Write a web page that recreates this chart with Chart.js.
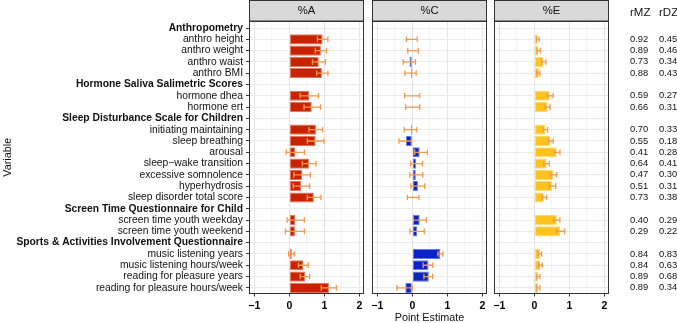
<!DOCTYPE html>
<html>
<head>
<meta charset="utf-8">
<script src="https://cdn.jsdelivr.net/npm/chart.js@4"></script>
<style>
  html, body { margin: 0; padding: 0; background: #ffffff; }
  #wrap { position: relative; width: 677px; height: 323px; overflow: hidden; background: #fff; }
  canvas { position: absolute; top: 0; }
</style>
</head>
<body>
<div id="wrap">
  <canvas id="cA" width="368" height="323" style="left:0px"></canvas>
  <canvas id="cC" width="124" height="323" style="left:366px"></canvas>
  <canvas id="cE" width="188" height="323" style="left:489px"></canvas>
</div>
<script>
// ---------- data ----------
const categories = [
  "Anthropometry", "anthro height", "anthro weight", "anthro waist", "anthro BMI",
  "Hormone Saliva Salimetric Scores", "hormone dhea", "hormone ert",
  "Sleep Disturbance Scale for Children", "initiating maintaining", "sleep breathing", "arousal",
  "sleep\u2212wake transition", "excessive somnolence", "hyperhydrosis", "sleep disorder total score",
  "Screen Time Questionnaire for Child", "screen time youth weekday", "screen time youth weekend",
  "Sports & Activities Involvement Questionnaire", "music listening years", "music listening hours/week",
  "reading for pleasure years", "reading for pleasure hours/week"
];
const headerRows = [
  "Anthropometry", "Hormone Saliva Salimetric Scores", "Sleep Disturbance Scale for Children",
  "Screen Time Questionnaire for Child", "Sports & Activities Involvement Questionnaire"
];
const panelTitles = ["%A", "%C", "%E"];
const xTickValues = [-1, -0.5, 0, 0.5, 1, 1.5, 2];

const estA = [null, 0.95, 0.90, 0.84, 0.93, null, 0.57, 0.64, null, 0.76, 0.75, 0.17, 0.56, 0.37, 0.34, 0.70, null, 0.17, 0.16, null, 0.07, 0.39, 0.45, 1.13];
const loA  = [null, 0.80, 0.74, 0.66, 0.78, null, 0.31, 0.42, null, 0.56, 0.51, -0.09, 0.37, 0.13, 0.11, 0.51, null, -0.06, -0.11, null, -0.02, 0.26, 0.31, 0.91];
const hiA  = [null, 1.10, 1.06, 1.03, 1.10, null, 0.83, 0.89, null, 0.95, 0.99, 0.43, 0.76, 0.60, 0.58, 0.90, null, 0.43, 0.43, null, 0.14, 0.54, 0.58, 1.34];

const estC = [null, 0.01, 0.02, -0.08, -0.04, null, 0.00, 0.00, null, -0.04, -0.18, 0.21, 0.11, 0.10, 0.16, 0.02, null, 0.21, 0.14, null, 0.80, 0.46, 0.47, -0.20];
const loC  = [null, -0.17, -0.13, -0.26, -0.21, null, -0.22, -0.19, null, -0.23, -0.38, 0.07, -0.05, -0.07, -0.04, -0.14, null, 0.03, -0.07, null, 0.73, 0.31, 0.33, -0.44];
const hiC  = [null, 0.14, 0.17, 0.09, 0.11, null, 0.21, 0.21, null, 0.13, -0.02, 0.43, 0.29, 0.30, 0.35, 0.19, null, 0.40, 0.34, null, 0.87, 0.58, 0.58, 0.00];

const estE = [null, 0.10, 0.11, 0.26, 0.13, null, 0.44, 0.38, null, 0.31, 0.46, 0.64, 0.35, 0.54, 0.51, 0.27, null, 0.64, 0.74, null, 0.17, 0.17, 0.11, 0.11];
const loE  = [null, 0.06, 0.08, 0.21, 0.08, null, 0.37, 0.31, null, 0.26, 0.40, 0.57, 0.27, 0.46, 0.43, 0.23, null, 0.56, 0.64, null, 0.11, 0.12, 0.07, 0.06];
const hiE  = [null, 0.14, 0.17, 0.33, 0.16, null, 0.54, 0.45, null, 0.38, 0.54, 0.73, 0.43, 0.64, 0.61, 0.35, null, 0.73, 0.86, null, 0.21, 0.23, 0.16, 0.16];

const rMZ = [null, 0.92, 0.89, 0.73, 0.88, null, 0.59, 0.66, null, 0.70, 0.55, 0.41, 0.64, 0.47, 0.51, 0.73, null, 0.40, 0.29, null, 0.84, 0.84, 0.89, 0.89];
const rDZ = [null, 0.45, 0.46, 0.34, 0.43, null, 0.27, 0.31, null, 0.33, 0.18, 0.28, 0.41, 0.30, 0.31, 0.38, null, 0.29, 0.22, null, 0.83, 0.63, 0.68, 0.34];

// ---------- styling ----------
const FONT = "'Liberation Sans', Arial, Helvetica, sans-serif";
const ERR_COLOR = "#F5994A";
const TEXT = "#111111";

function fmtTick(v) {
  if (!Number.isInteger(v)) return "";
  return v < 0 ? "\u2212" + Math.abs(v) : String(v);
}

function panelPlugin(title, lo, hi, extra) {
  return {
    id: "panel_" + title.replace("%", ""),
    afterDatasetsDraw(chart) {
      const ctx = chart.ctx, xs = chart.scales.x, ys = chart.scales.y;
      ctx.save();
      ctx.strokeStyle = ERR_COLOR;
      ctx.lineWidth = 1.3;
      for (let i = 0; i < lo.length; i++) {
        if (lo[i] === null || hi[i] === null) continue;
        const y = ys.getPixelForValue(i);
        const x1 = xs.getPixelForValue(lo[i]);
        const x2 = xs.getPixelForValue(hi[i]);
        ctx.beginPath();
        ctx.moveTo(x1, y); ctx.lineTo(x2, y);
        ctx.moveTo(x1, y - 2.8); ctx.lineTo(x1, y + 2.8);
        ctx.moveTo(x2, y - 2.8); ctx.lineTo(x2, y + 2.8);
        ctx.stroke();
      }
      ctx.restore();
    },
    afterDraw(chart) {
      const ctx = chart.ctx, a = chart.chartArea;
      ctx.save();
      ctx.strokeStyle = "#333333";
      ctx.lineWidth = 1;
      const L = Math.round(a.left), R = Math.round(a.right), T = Math.round(a.top), B = Math.round(a.bottom);
      ctx.strokeRect(L + 0.5, T + 0.5, R - L - 1, B - T - 1);
      // strip
      ctx.fillStyle = "#D9D9D9";
      ctx.fillRect(L, 0, R - L, T);
      ctx.strokeRect(L + 0.5, 0.5, R - L - 1, T - 0.5);
      ctx.fillStyle = TEXT;
      ctx.font = "11.3px " + FONT;
      ctx.textAlign = "center";
      ctx.textBaseline = "middle";
      ctx.fillText(title, (a.left + a.right) / 2, T / 2 + 0.5);
      if (extra) extra(chart);
      ctx.restore();
    }
  };
}

function toPoints(est) {
  const pts = [];
  est.forEach((v, i) => { if (v !== null) pts.push({ x: v, y: i }); });
  return pts;
}

function makeChart(id, idx, est, lo, hi, fill, border, cfg) {
  const plugins = [panelPlugin(panelTitles[idx], lo, hi, cfg.extra)];
  return new Chart(document.getElementById(id), {
    type: "bar",
    data: {
      datasets: [{
        data: toPoints(est),
        backgroundColor: fill,
        borderColor: border,
        borderWidth: 1,
        borderSkipped: false,
        barPercentage: 0.9,
        categoryPercentage: 1.0
      }]
    },
    options: {
      indexAxis: "y",
      responsive: false,
      animation: false,
      events: [],
      layout: { padding: cfg.padding },
      plugins: { legend: { display: false }, tooltip: { enabled: false } },
      scales: {
        x: {
          type: "linear",
          min: -1.15, max: 2.13,
          afterBuildTicks(scale) { scale.ticks = xTickValues.map(v => ({ value: v })); },
          afterFit(scale) { scale.height = 29.5; },
          border: { display: false },
          grid: {
            color: c => Number.isInteger(c.tick.value) ? "#E4E4E4" : "#F1F1F1",
            lineWidth: c => Number.isInteger(c.tick.value) ? 1 : 0.7,
            tickColor: c => Number.isInteger(c.tick.value) ? "#333333" : "rgba(0,0,0,0)",
            tickLength: 3,
            tickWidth: 1
          },
          ticks: {
            autoSkip: false, maxRotation: 0, padding: 3.5,
            color: "#000000",
            font: { family: FONT, size: 10.5, weight: "bold" },
            callback: v => fmtTick(v)
          },
          title: cfg.xTitle ? {
            display: true, text: "Point Estimate", color: TEXT,
            font: { family: FONT, size: 10.8 }, padding: { top: 0, bottom: -2 }
          } : { display: false }
        },
        y: {
          type: "linear",
          reverse: true,
          offset: false,
          min: -0.62, max: 23.5,
          afterBuildTicks(scale) { scale.ticks = categories.map((_, i) => ({ value: i })); },
          afterFit(scale) { scale.width = cfg.yWidth; },
          border: { display: false },
          grid: {
            offset: false,
            color: "#EBEBEB",
            lineWidth: 1,
            drawTicks: cfg.showLabels,
            tickLength: 3,
            tickColor: "#333333"
          },
          ticks: {
            display: cfg.showLabels,
            autoSkip: false,
            padding: 3,
            color: TEXT,
            callback: v => categories[v],
            font: c => ({
              family: FONT, size: 10.3,
              weight: headerRows.includes(categories[c.index]) ? "bold" : "normal"
            })
          },
          title: cfg.showLabels ? {
            display: true, text: "Variable", color: TEXT,
            font: { family: FONT, size: 10.8 }, padding: { top: 2, bottom: 0 }
          } : { display: false }
        }
      }
    },
    plugins: plugins
  });
}

function drawCorrelations(chart) {
  const ctx = chart.ctx, ys = chart.scales.y;
  const xMZ = 630 - 489, xDZ = 659 - 489;
  ctx.fillStyle = TEXT;
  ctx.textAlign = "left";
  ctx.textBaseline = "middle";
  ctx.font = "11.5px " + FONT;
  ctx.fillText("rMZ", xMZ, 13);
  ctx.fillText("rDZ", xDZ, 13);
  ctx.font = "9.4px " + FONT;
  for (let i = 0; i < categories.length; i++) {
    const y = ys.getPixelForValue(i);
    if (rMZ[i] !== null) ctx.fillText(rMZ[i].toFixed(2), xMZ, y);
    if (rDZ[i] !== null) ctx.fillText(rDZ[i].toFixed(2), xDZ, y);
  }
}

makeChart("cA", 0, estA, loA, hiA, "#C82200", "#E2765E",
  { padding: { top: 21, right: 4, left: 0, bottom: 0 }, yWidth: 249, showLabels: true, xTitle: false });
makeChart("cC", 1, estC, loC, hiC, "#0A22C8", "#6A7BE6",
  { padding: { top: 21, right: 3, left: 6, bottom: 0 }, yWidth: 0, showLabels: false, xTitle: true });
makeChart("cE", 2, estE, loE, hiE, "#FFC320", "#FFD86A",
  { padding: { top: 21, right: 68, left: 5, bottom: 0 }, yWidth: 0, showLabels: false, xTitle: false, extra: drawCorrelations });
</script>
</body>
</html>
